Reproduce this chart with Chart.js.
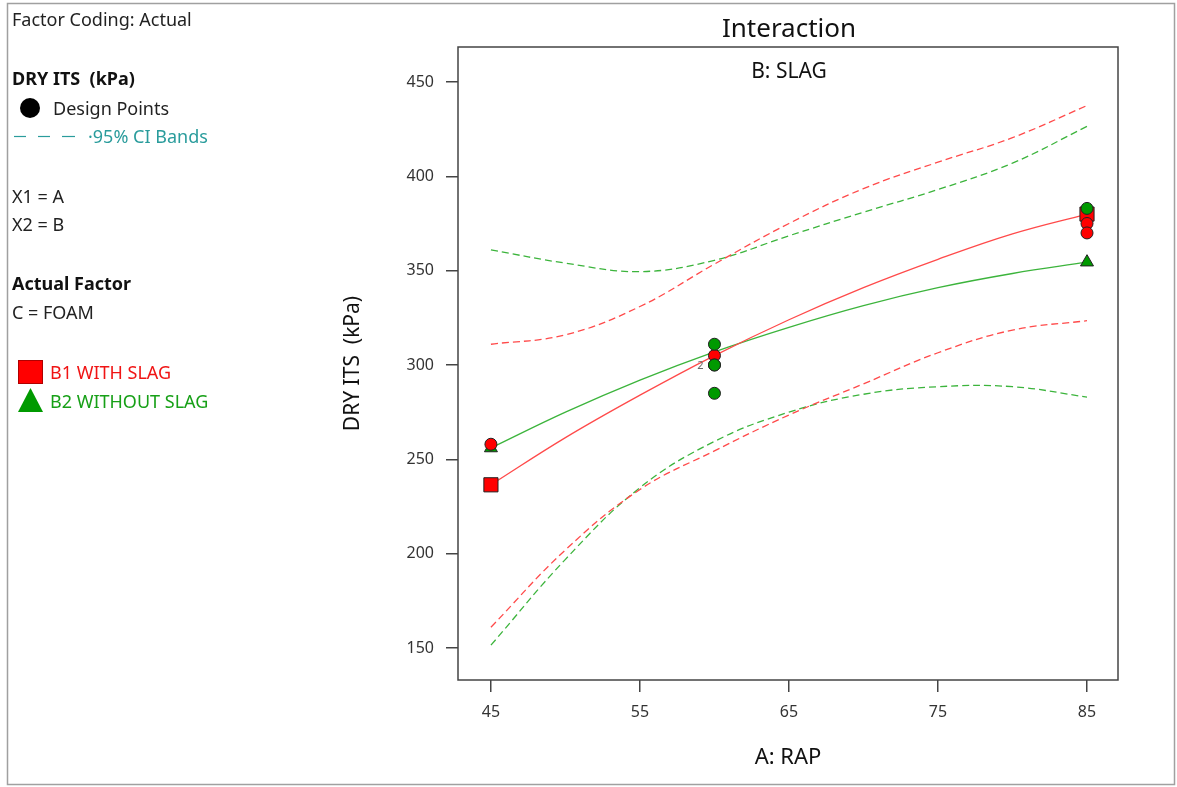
<!DOCTYPE html>
<html>
<head>
<meta charset="utf-8">
<title>Interaction – DRY ITS</title>
<script src="https://cdn.jsdelivr.net/npm/chart.js@4.4.1/dist/chart.umd.min.js"></script>
<style>
  html, body { margin: 0; padding: 0; background: #ffffff; }
  canvas { display: block; }
</style>
</head>
<body>
<canvas id="chart" width="1177" height="787"></canvas>
<script>
// RAP levels where the fitted curves and confidence bands are read
const rapGrid = [45, 50, 55, 60, 65, 70, 75, 80, 85];
const rapTicks = [45, 55, 65, 75, 85];
const itsTicks = [150, 200, 250, 300, 350, 400, 450];

// B1 WITH SLAG: fitted response and 95% CI bands
const withSlagFit   = [236.5, 261.5, 284, 305, 324, 341, 356, 369.5, 380];
const withSlagUpper = [311, 316, 331, 353.5, 375, 393.5, 407.5, 420.5, 437.5];
const withSlagLower = [161, 202, 234, 254.5, 273.5, 290, 306.5, 318.5, 323.5];

// B2 WITHOUT SLAG: fitted response and 95% CI bands
const withoutSlagFit   = [256, 275, 292, 307, 320, 331.5, 341, 348.5, 354.5];
const withoutSlagUpper = [361, 354, 349.5, 355.5, 368.5, 381, 393, 407, 426.5];
const withoutSlagLower = [151.5, 197, 235, 259.5, 275, 284.5, 288.5, 288.5, 283];

// Design points (RAP, DRY ITS)
const withSlagRap = [45, 60, 85, 85];
const withSlagIts = [258, 305, 375, 370];
const withoutSlagRap = [60, 60, 60, 60, 85];
const withoutSlagIts = [311, 300, 300, 285, 383];

const FONT = "'Noto Sans', 'DejaVu Sans', sans-serif";
const RED = '#ff0000';
const GREEN = '#009a00';
const RED_LINE = '#ff4a4a';
const GREEN_LINE = '#3cb43c';

const pts = (xs, ys) => xs.map((x, i) => ({ x: x, y: ys[i] }));
const ends = (xs, ys) => [{ x: xs[0], y: ys[0] }, { x: xs[xs.length - 1], y: ys[ys.length - 1] }];

function curve(label, ys, color, dashed) {
  return {
    label: label,
    data: pts(rapGrid, ys),
    showLine: true,
    borderColor: color,
    borderWidth: 1.3,
    borderDash: dashed ? [7, 4] : [],
    pointRadius: 0,
    fill: false,
    tension: 0.4,
    order: dashed ? 6 : 5
  };
}

function markers(label, data, style, radius, color, order) {
  return {
    label: label,
    data: data,
    showLine: false,
    pointStyle: style,
    pointRadius: radius,
    pointBackgroundColor: color,
    pointBorderColor: '#222222',
    pointBorderWidth: 1,
    order: order
  };
}

// Left-hand information panel, outer frame, title and sub-title
const panelPlugin = {
  id: 'panel',
  beforeDraw(chart) {
    const ctx = chart.ctx;
    ctx.save();
    ctx.fillStyle = '#ffffff';
    ctx.fillRect(0, 0, chart.width, chart.height);

    ctx.strokeStyle = '#a0a0a0';
    ctx.lineWidth = 1.5;
    ctx.strokeRect(7.5, 3.5, 1167, 781);

    ctx.textBaseline = 'middle';
    ctx.textAlign = 'left';
    const text = (s, x, y, color, bold) => {
      ctx.font = (bold ? 'bold ' : '') + '18px ' + FONT;
      ctx.fillStyle = color;
      ctx.fillText(s, x, y + 1.5);
    };
    text('Factor Coding: Actual', 12, 19, '#222222');
    text('DRY ITS  (kPa)', 12, 78, '#111111', true);

    ctx.fillStyle = '#000000';
    ctx.beginPath();
    ctx.arc(30, 108, 10, 0, Math.PI * 2);
    ctx.fill();
    text('Design Points', 53, 108, '#222222');

    ctx.strokeStyle = '#2a9c9c';
    ctx.lineWidth = 1.2;
    [[14, 26], [38, 50], [62, 75]].forEach(([a, b]) => {
      ctx.beginPath();
      ctx.moveTo(a, 136.5);
      ctx.lineTo(b, 136.5);
      ctx.stroke();
    });
    text('·95% CI Bands', 88, 136, '#2a9c9c');

    text('X1 = A', 12, 196, '#222222');
    text('X2 = B', 12, 224, '#222222');
    text('Actual Factor', 12, 283, '#111111', true);
    text('C = FOAM', 12, 312, '#222222');

    ctx.fillStyle = RED;
    ctx.strokeStyle = '#b00000';
    ctx.lineWidth = 1;
    ctx.fillRect(18, 360, 25, 24);
    ctx.strokeRect(18.5, 360.5, 24, 23);
    text('B1 WITH SLAG', 50, 372, '#f01414');

    ctx.fillStyle = GREEN;
    ctx.beginPath();
    ctx.moveTo(30.5, 388);
    ctx.lineTo(43, 412);
    ctx.lineTo(18, 412);
    ctx.closePath();
    ctx.fill();
    text('B2 WITHOUT SLAG', 50, 401, '#17a017');

    ctx.textAlign = 'center';
    ctx.fillStyle = '#111111';
    ctx.font = '26px ' + FONT;
    ctx.fillText('Interaction', 789, 30);
    ctx.font = '21px ' + FONT;
    ctx.fillText('B: SLAG', 789, 72);
    ctx.restore();
  },
  afterDraw(chart) {
    const { ctx, chartArea: a } = chart;
    ctx.save();
    ctx.strokeStyle = '#444444';
    ctx.lineWidth = 1.5;
    ctx.strokeRect(a.left, a.top, a.right - a.left, a.bottom - a.top);

    // replicate counts beside stacked design points
    const xs = chart.scales.x, ys = chart.scales.y;
    const counts = {};
    withoutSlagRap.forEach((x, i) => {
      const k = x + '|' + withoutSlagIts[i];
      counts[k] = (counts[k] || 0) + 1;
    });
    ctx.font = '11px ' + FONT;
    ctx.fillStyle = '#666666';
    ctx.textAlign = 'center';
    ctx.textBaseline = 'middle';
    Object.keys(counts).forEach(k => {
      if (counts[k] > 1) {
        const [x, y] = k.split('|').map(Number);
        ctx.fillText(String(counts[k]), xs.getPixelForValue(x) - 14, ys.getPixelForValue(y) + 1);
      }
    });
    ctx.restore();
  }
};

new Chart(document.getElementById('chart'), {
  type: 'scatter',
  data: {
    datasets: [
      markers('B2 design points', pts(withoutSlagRap, withoutSlagIts), 'circle', 6, GREEN, 0),
      markers('B1 design points', pts(withSlagRap, withSlagIts), 'circle', 6, RED, 1),
      markers('B1 WITH SLAG', ends(rapGrid, withSlagFit), 'rect', 10, RED, 3),
      markers('B2 WITHOUT SLAG', ends(rapGrid, withoutSlagFit), 'triangle', 7.5, GREEN, 2),
      curve('B1 fit', withSlagFit, RED_LINE, false),
      curve('B2 fit', withoutSlagFit, GREEN_LINE, false),
      curve('B1 upper 95% CI', withSlagUpper, RED_LINE, true),
      curve('B1 lower 95% CI', withSlagLower, RED_LINE, true),
      curve('B2 upper 95% CI', withoutSlagUpper, GREEN_LINE, true),
      curve('B2 lower 95% CI', withoutSlagLower, GREEN_LINE, true)
    ]
  },
  options: {
    responsive: false,
    animation: false,
    devicePixelRatio: 1,
    layout: { padding: { left: 340, right: 59, top: 47, bottom: 0 } },
    plugins: {
      legend: { display: false },
      tooltip: { enabled: false },
      title: { display: false }
    },
    scales: {
      x: {
        type: 'linear',
        min: 42.79,
        max: 87.08,
        afterBuildTicks: s => { s.ticks = rapTicks.map(v => ({ value: v })); },
        afterFit: s => { s.height = 107; },
        border: { display: false },
        grid: { drawOnChartArea: false, drawTicks: true, tickLength: 12, color: '#444444', lineWidth: 1.5 },
        ticks: { padding: 11, color: '#333333', font: { family: FONT, size: 16 } },
        title: { display: true, text: 'A: RAP', color: '#111111', font: { family: FONT, size: 22 }, padding: { top: 0, bottom: 16 } }
      },
      y: {
        type: 'linear',
        min: 133.04,
        max: 468.55,
        afterBuildTicks: s => { s.ticks = itsTicks.map(v => ({ value: v })); },
        afterFit: s => { s.width = 118; },
        border: { display: false },
        grid: { drawOnChartArea: false, drawTicks: true, tickLength: 12, color: '#444444', lineWidth: 1.5 },
        ticks: { padding: 12, color: '#333333', font: { family: FONT, size: 16 } },
        title: { display: true, text: 'DRY ITS  (kPa)', color: '#111111', font: { family: FONT, size: 21 }, padding: { top: 0, bottom: 0 } }
      }
    }
  },
  plugins: [panelPlugin]
});
</script>
</body>
</html>
